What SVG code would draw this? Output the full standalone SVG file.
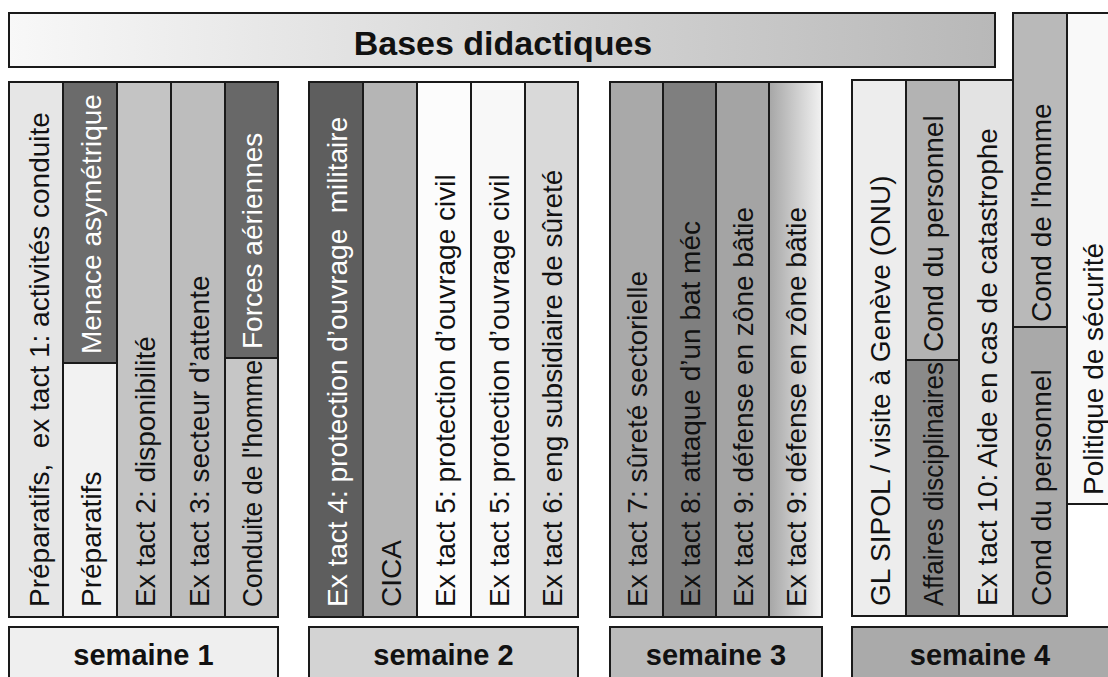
<svg xmlns="http://www.w3.org/2000/svg" width="1108" height="677" viewBox="0 0 1108 677">
<defs>
<linearGradient id="gTitle" x1="0" y1="0" x2="1" y2="0">
<stop offset="0" stop-color="#f8f8f8"/>
<stop offset="1" stop-color="#b8b8b8"/>
</linearGradient>
<linearGradient id="gW3" x1="0" y1="0" x2="1" y2="0">
<stop offset="0" stop-color="#a6a6a6"/>
<stop offset="1" stop-color="#f2f2f2"/>
</linearGradient>
<style>
rect{stroke:#1a1a1a;stroke-width:2}
text{font-family:"Liberation Sans",Arial,sans-serif;fill:#111}
.v{font-size:28px;white-space:pre}
.w{fill:#ffffff}
.t{font-size:34px;font-weight:bold;text-anchor:middle}
.s{font-size:29px;font-weight:bold;text-anchor:middle}
</style>
</defs>
<rect x="0" y="0" width="1108" height="677" fill="#ffffff" style="stroke:none"/>

<g id="title">
<rect x="9" y="13" width="986" height="54" fill="url(#gTitle)"/>
<text class="t" x="503" y="55">Bases didactiques</text>
</g>

<g id="semaine1">
<g id="w1c1"><rect x="9" y="82" width="54" height="535" fill="#e6e6e6"/>
<text class="v" transform="translate(49,607) rotate(-90)">Préparatifs,  ex tact 1: activités conduite</text></g>
<g id="w1c2a"><rect x="63" y="82" width="54" height="281" fill="#6b6b6b"/>
<text class="v w" transform="translate(101,354) rotate(-90)">Menace asymétrique</text></g>
<g id="w1c2b"><rect x="63" y="363" width="54" height="254" fill="#f2f2f2"/>
<text class="v" transform="translate(101,607) rotate(-90)">Préparatifs</text></g>
<g id="w1c3"><rect x="117" y="82" width="54" height="535" fill="#c4c4c4"/>
<text class="v" transform="translate(155,607) rotate(-90)">Ex tact 2: disponibilité</text></g>
<g id="w1c4"><rect x="171" y="82" width="54" height="535" fill="#bdbdbd"/>
<text class="v" transform="translate(209,607) rotate(-90)">Ex tact 3: secteur d’attente</text></g>
<g id="w1c5a"><rect x="225" y="82" width="53" height="276" fill="#686868"/>
<text class="v w" transform="translate(262,349) rotate(-90)">Forces aériennes</text></g>
<g id="w1c5b"><rect x="225" y="358" width="53" height="259" fill="#c6c6c6"/>
<text class="v" transform="translate(262,607) rotate(-90)" textLength="247" lengthAdjust="spacingAndGlyphs">Conduite de l'homme</text></g>
</g>

<g id="semaine2">
<g id="w2c1"><rect x="309" y="82" width="54" height="535" fill="#5e5e5e"/>
<text class="v w" transform="translate(347,607) rotate(-90)">Ex tact 4: protection d’ouvrage  militaire</text></g>
<g id="w2c2"><rect x="363" y="82" width="54" height="535" fill="#b5b5b5"/>
<text class="v" transform="translate(401,607) rotate(-90)">CICA</text></g>
<g id="w2c3"><rect x="417" y="82" width="54" height="535" fill="#fcfcfc"/>
<text class="v" transform="translate(455,607) rotate(-90)">Ex tact 5: protection d’ouvrage civil</text></g>
<g id="w2c4"><rect x="471" y="82" width="54" height="535" fill="#f8f8f8"/>
<text class="v" transform="translate(509,607) rotate(-90)">Ex tact 5: protection d’ouvrage civil</text></g>
<g id="w2c5"><rect x="525" y="82" width="53" height="535" fill="#d9d9d9"/>
<text class="v" transform="translate(562,607) rotate(-90)">Ex tact 6: eng subsidiaire de sûreté</text></g>
</g>

<g id="semaine3">
<g id="w3c1"><rect x="610" y="82" width="53" height="535" fill="#a9a9a9"/>
<text class="v" transform="translate(647,607) rotate(-90)">Ex tact 7: sûreté sectorielle</text></g>
<g id="w3c2"><rect x="663" y="82" width="53" height="535" fill="#7f7f7f"/>
<text class="v" transform="translate(700,607) rotate(-90)">Ex tact 8: attaque d’un bat méc</text></g>
<g id="w3c3"><rect x="716" y="82" width="53" height="535" fill="#a4a4a4"/>
<text class="v" transform="translate(753,607) rotate(-90)">Ex tact 9: défense en zône bâtie</text></g>
<g id="w3c4"><rect x="769" y="82" width="53" height="535" fill="url(#gW3)"/>
<text class="v" transform="translate(806,607) rotate(-90)">Ex tact 9: défense en zône bâtie</text></g>
</g>

<g id="semaine4">
<g id="w4c1"><rect x="852" y="80" width="54" height="536" fill="#ededed"/>
<text class="v" transform="translate(890,606) rotate(-90)">GL SIPOL / visite à Genève (ONU)</text></g>
<g id="w4c2a"><rect x="906" y="80" width="53" height="280" fill="#b3b3b3"/>
<text class="v" transform="translate(943,352) rotate(-90)">Cond du personnel</text></g>
<g id="w4c2b"><rect x="906" y="360" width="53" height="256" fill="#8a8a8a"/>
<text class="v" transform="translate(943,606) rotate(-90)" textLength="244" lengthAdjust="spacingAndGlyphs">Affaires disciplinaires</text></g>
<g id="w4c3"><rect x="959" y="80" width="54" height="536" fill="#e3e3e3"/>
<text class="v" transform="translate(997,606) rotate(-90)">Ex tact 10: Aide en cas de catastrophe</text></g>
<g id="w4c4a"><rect x="1013" y="13" width="54" height="314" fill="#b9b9b9"/>
<text class="v" transform="translate(1051,322) rotate(-90)">Cond de l'homme</text></g>
<g id="w4c4b"><rect x="1013" y="327" width="54" height="289" fill="#a9a9a9"/>
<text class="v" transform="translate(1051,606) rotate(-90)">Cond du personnel</text></g>
<g id="w4c5"><rect x="1067" y="13" width="50" height="491" fill="#f9f9f9"/>
<text class="v" transform="translate(1103,495) rotate(-90)">Politique de sécurité</text></g>
</g>

<g id="labels">
<g id="lab1"><rect x="9" y="627" width="269" height="62" fill="#efefef"/>
<text class="s" x="143.5" y="665">semaine 1</text></g>
<g id="lab2"><rect x="309" y="627" width="269" height="62" fill="#d3d3d3"/>
<text class="s" x="443.5" y="665">semaine 2</text></g>
<g id="lab3"><rect x="610" y="627" width="212" height="62" fill="#bbbbbb"/>
<text class="s" x="716" y="665">semaine 3</text></g>
<g id="lab4"><rect x="852" y="627" width="270" height="62" fill="#aaaaaa"/>
<text class="s" x="980" y="665">semaine 4</text></g>
</g>

<g id="connectors"/>
</svg>
